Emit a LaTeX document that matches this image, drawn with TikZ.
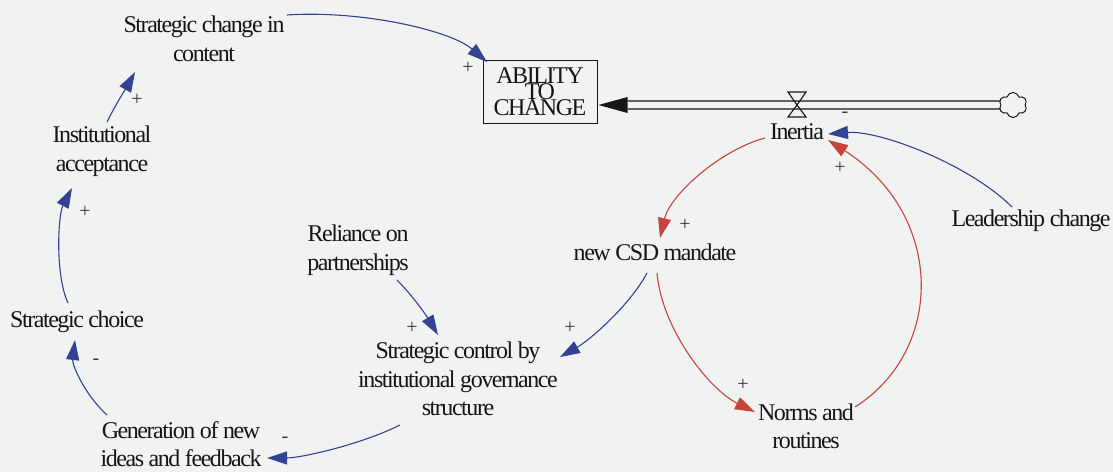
\documentclass[tikz,border=0pt]{standalone}
\usepackage{fontspec}
\setmainfont{Liberation Serif}[LetterSpace=-6]
\usetikzlibrary{arrows.meta,calc,shapes.symbols}
\definecolor{bg}{RGB}{241,242,242}
\definecolor{linkblue}{RGB}{52,66,148}
\definecolor{linkred}{RGB}{200,68,58}
\definecolor{ink}{RGB}{22,22,22}
% lets the stacked words of the stock name sit closer than their height
\newcommand\tightlines{\lineskiplimit=-50pt\relax}

\begin{document}
\begin{tikzpicture}[x=1pt,y=1pt,
  var/.style={font=\fontsize{24}{28.5}\selectfont, align=center, inner sep=0pt, text=ink},
  sign/.style={font=\fontsize{20}{20}\selectfont, inner sep=0pt, text=ink!85},
  bluelink/.style={draw=linkblue, line width=1.1pt, -{Triangle[length=20pt,width=13pt]}},
  redlink/.style={draw=linkred, line width=1.1pt, -{Triangle[length=20pt,width=13pt]}},
  stockbox/.style={draw=ink, line width=1pt, minimum width=114pt, minimum height=63pt,
    inner sep=0pt, align=center, text=ink,
    font={\fontsize{24}{16}\selectfont\tightlines}},
  pipe/.style={draw=ink, line width=1.1pt},
]
% canvas
\fill[bg] (0,0) rectangle (1113,-472);
\useasboundingbox (0,0) rectangle (1113,-472);

% variables
\node[var] (sc)  at (204,-39)   {Strategic change in\\content};
\node[stockbox] (ab) at (540,-91.5) {ABILITY\\TO\\CHANGE};
\node[var] (ia)  at (102,-151)  {Institutional\\acceptance};
\node[var] (ch)  at (77,-322)   {Strategic choice};
\node[var] (gen) at (181,-444)  {Generation of new\\ideas and feedback};
\node[var] (ctl) at (458,-379)  {Strategic control by\\institutional governance\\structure};
\node[var] (rel) at (358,-250)  {Reliance on\\partnerships};
\node[var] (csd) at (655,-252)  {new CSD mandate};
\node[var] (nr)  at (806,-426.5){Norms and\\routines};
\node[var] (in)  at (797,-132)  {Inertia};
\node[var] (lc)  at (1031,-221) {Leadership change};

% flow into the stock: source cloud, pipe, valve
\node[cloud, cloud puffs=6, draw=ink, line width=1pt, fill=bg,
      minimum width=28pt, minimum height=25pt, inner sep=0pt] (src) at (1013,-105) {};
\coordinate (tip) at ($(ab.east)+(1,-13.5)$);
\coordinate (vlv) at (797,-105);
\draw[pipe] ($(src.west)+(0,4)$) -- ($(tip)+(29,4)$);
\draw[pipe] ($(src.west)+(0,-4)$) -- ($(tip)+(29,-4)$);
\fill[ink] (tip) -- ++(29,8) -- ++(0,-16) -- cycle;
\draw[pipe] (vlv) -- ++(-9,13) -- ++(18,0) -- cycle;
\draw[pipe] (vlv) -- ++(-9,-12) -- ++(18,0) -- cycle;

% causal links
\draw[bluelink] ($(sc)+(83,24)$) .. controls +(73,5) and +(-37,32) .. ($(ab)+(-53,29.5)$);
\draw[bluelink] ($(ia)+(5,29)$) .. controls +(10,20) and +(-10,-18) .. ($(sc)+(-69,-33)$);
\draw[bluelink] ($(ch)+(-9,19)$) .. controls +(-13,28) and +(-14,-27) .. ($(ia)+(-30,-37)$);
\draw[bluelink] ($(gen)+(-74,29)$) .. controls +(-22,20) and +(-3,-25) .. ($(ch)+(-2,-18)$);
\draw[bluelink] ($(ctl)+(-58,-46)$) .. controls +(-40,-20) and +(33,0) .. ($(gen)+(86,-14)$);
\draw[bluelink] ($(rel)+(39,-30)$) .. controls +(15,-15) and +(-12,20) .. ($(ctl)+(-20,44)$);
\draw[bluelink] ($(csd)+(-8,-21)$) .. controls +(-17,-32) and +(30,17) .. ($(ctl)+(102,22)$);
\draw[bluelink] ($(lc)+(-19,14)$) .. controls +(-42,42) and +(52,4) .. ($(in)+(31,-2)$);
\draw[redlink] ($(csd)+(2,-21)$) .. controls +(5,-57) and +(-45,22) .. ($(nr)+(-51,14.5)$);
\draw[redlink] ($(nr)+(49,19.5)$) .. controls +(90,57) and +(117,-75) .. ($(in)+(31,-8)$);
\draw[redlink] ($(in)+(-32,-6)$) .. controls +(-45,-12) and +(10,43) .. ($(csd)+(5,14)$);

% link polarities
\node[sign] (p1)  at (468,-68)  {+};
\node[sign] (p2)  at (137,-100) {+};
\node[sign] (p3)  at (85,-212)  {+};
\node[sign] (m1)  at (96,-362)  {-};
\node[sign] (m2)  at (285,-440) {-};
\node[sign] (p4)  at (412,-328) {+};
\node[sign] (p5)  at (570,-328) {+};
\node[sign] (p6)  at (685,-225) {+};
\node[sign] (p7)  at (743,-385) {+};
\node[sign] (p8)  at (840,-168) {+};
\node[sign] (m3)  at (845,-115) {-};
\end{tikzpicture}
\end{document}
